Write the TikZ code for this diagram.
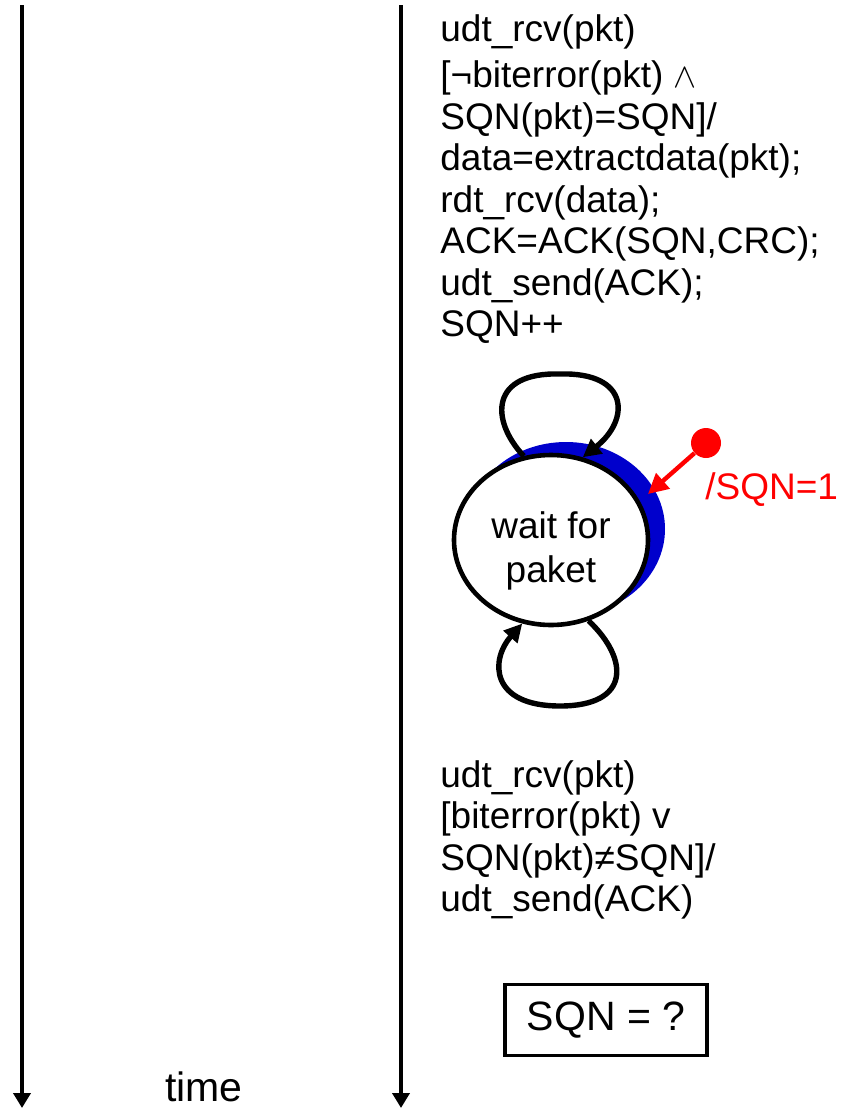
\documentclass[tikz,border=0pt]{standalone}
\usepackage{fontspec}
\setmainfont{Liberation Sans}
\usetikzlibrary{arrows.meta,shapes.geometric}
\definecolor{shadowblue}{RGB}{0,0,204}

\begin{document}
\begin{tikzpicture}[x=0.5pt, y=-0.5pt,
    lbl/.style={font=\fontsize{18.5}{20.75}\selectfont, align=left, inner sep=0pt},
    timeline/.style={line width=1.9pt, -{Triangle[length=7.5pt,width=8.5pt]}},
    selfloop/.style={line width=2.7pt, -{Triangle[length=9pt,width=9pt]}},
    initarrow/.style={red, line width=2.2pt, -{Triangle[length=10pt,width=10pt]}}]
    \useasboundingbox (0,0) rectangle (850,1110);

    % Time axes
    \coordinate (lefttop) at (22,5);
    \coordinate (leftbot) at (22,1108);
    \coordinate (righttop) at (401,5);
    \coordinate (rightbot) at (401,1108);
    \draw[timeline] (lefttop) -- (leftbot);
    \draw[timeline] (righttop) -- (rightbot);
    \node[font=\fontsize{20.5}{24}\selectfont, inner sep=0pt] (time) at (204,1087) {time};

    % State with shadow
    \node[ellipse, fill=shadowblue, minimum width=99pt, minimum height=87pt, inner sep=0pt] (shadow) at (566,529) {};
    \node[ellipse, draw, fill=white, line width=2.3pt, minimum width=97pt, minimum height=85pt,
          inner sep=0pt] (wait) at (551,540) {};
    \node[font=\fontsize{18.5}{22}\selectfont, align=center, inner sep=0pt] (waitlbl) at (551,551) {wait for\\paket};

    % Self loops
    \draw[selfloop] (wait.108) .. controls (490,420) and (490,372) .. (560,374)
        .. controls (630,372) and (630,420) .. (wait.69);
    \draw[selfloop] (wait.295) .. controls (630,660) and (630,706) .. (560,706)
        .. controls (490,706) and (490,660) .. (wait.251);

    % Initial transition
    \node[circle, fill=red, minimum size=15pt, inner sep=0pt] (init) at (706,443) {};
    \coordinate (inittip) at (648,494);
    \draw[initarrow] (init) -- (inittip);
    \node[lbl, text=red, anchor=base west] (initlbl) at (705,499) {/SQN=1};

    % Labels
    \node[lbl, anchor=north west] (oklbl) at (440,14) {udt\_rcv(pkt)\\[2.5pt]
        {[}¬biterror(pkt) $\wedge$\\
        SQN(pkt)=SQN]/\\
        data=extractdata(pkt);\\
        rdt\_rcv(data);\\
        ACK=ACK(SQN,CRC);\\
        udt\_send(ACK);\\
        SQN++};
    \node[lbl, anchor=north west] (errlbl) at (440,760) {udt\_rcv(pkt)\\
        {[}biterror(pkt) v\\
        SQN(pkt)≠SQN]/\\
        udt\_send(ACK)};

    % Question
    \node[draw, line width=1.8pt, minimum width=101pt, minimum height=35.5pt, inner sep=0pt,
          font=\fontsize{20.5}{24}\selectfont] (sqnbox) at (606,1020) {SQN = ?\hspace{6pt}};
\end{tikzpicture}
\end{document}
